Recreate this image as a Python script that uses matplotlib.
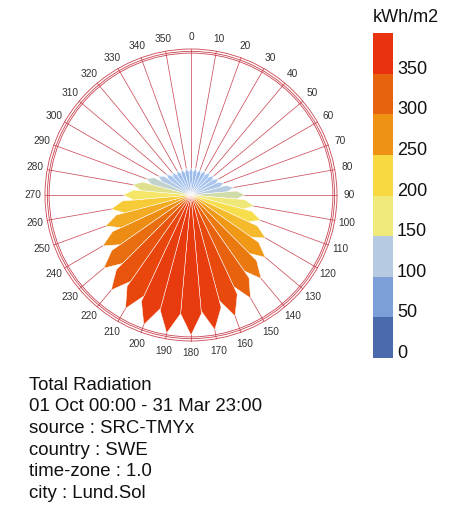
import numpy as np
import matplotlib
matplotlib.use('Agg')
import matplotlib.pyplot as plt
from matplotlib.patches import Polygon, Circle
from matplotlib.colors import LinearSegmentedColormap

plt.rcParams['font.family'] = ['Liberation Sans', 'DejaVu Sans']

# compass directions (deg, clockwise from north) and total radiation per direction
directions = list(range(0, 360, 10))
radiation = [74, 74, 74, 77, 80, 82, 88, 96, 118, 148, 175, 203, 236, 266, 299, 326, 353, 375,
             384, 384, 378, 359, 340, 312, 279, 249, 222, 186, 162, 131, 104, 88, 80, 77, 74, 74]

legend_bins = [0, 50, 100, 150, 200, 250, 300, 350, 400]
legend_colors = ['#4a6aab', '#7c9fd9', '#b6cbe2', '#f0ea7a', '#f8d942',
                 '#ef9112', '#e8630f', '#e83210']
legend_title = 'kWh/m2'

# smooth colour ramp used for the petals
ramp_values = [0, 50, 80, 120, 150, 180, 210, 240, 270, 310, 350, 400]
ramp_colors = ['#4a6aab', '#7c9fd9', '#a6c4f0', '#b8cce0', '#d2dca2', '#f4ea72',
               '#f8da40', '#f5b62a', '#ef9414', '#e8700f', '#e84a0c', '#e83210']

info_lines = ['Total Radiation', '01 Oct 00:00 - 31 Mar 23:00', 'source : SRC-TMYx',
              'country : SWE', 'time-zone : 1.0', 'city : Lund.Sol']

vmax = 400
cmap = LinearSegmentedColormap.from_list(
    'rad', [(v / vmax, c) for v, c in zip(ramp_values, ramp_colors)])


def pol(angle, r):
    a = np.radians(angle)
    return r * np.sin(a), r * np.cos(a)


fig = plt.figure(figsize=(4.76, 5.13), dpi=100)

# rose
ax = fig.add_axes([21 / 476, 148 / 513, 340 / 476, 340 / 513])
lim = 170 * vmax / 146
ax.set_xlim(-lim, lim)
ax.set_ylim(-lim, lim)
ax.set_aspect('equal')
ax.axis('off')

line_col = '#c4303f'
for r in [vmax, vmax * 0.984, vmax * 0.972]:
    ax.add_patch(Circle((0, 0), r, fill=False, ec=line_col, lw=0.6, alpha=0.9, zorder=1))
for d in directions:
    x, y = pol(d, vmax)
    ax.plot([0, x], [0, y], color=line_col, lw=0.55, alpha=0.85, zorder=1)
    tx, ty = pol(d, vmax * 1.085)
    ax.text(tx, ty, str(d), ha='center', va='center', fontsize=7.3, color='#333333')

half = 5.0
for d, v in zip(directions, radiation):
    pts = [(0, 0), pol(d - half, 0.85 * v), pol(d, v), pol(d + half, 0.85 * v)]
    ax.add_patch(Polygon(pts, closed=True, fc=cmap(v / vmax), ec='white', lw=0.35, zorder=2))

# legend
cax = fig.add_axes([373 / 476, 155 / 513, 20 / 476, 325 / 513])
cax.bar(0, np.diff(legend_bins), bottom=legend_bins[:-1], width=1, color=legend_colors,
        edgecolor='none')
cax.set_xlim(-0.5, 0.5)
cax.set_ylim(0, vmax)
cax.axis('off')
for b in legend_bins[:-1]:
    cax.text(1.2, b, str(b), ha='left', va='baseline', fontsize=13, color='#111111',
             transform=cax.get_yaxis_transform())
fig.text(373 / 476, 1 - 18 / 513, legend_title, ha='left', va='center', fontsize=13,
         color='#111111')

# info text
for i, line in enumerate(info_lines):
    fig.text(29 / 476, 1 - (385 + i * 21.7) / 513, line, ha='left', va='center',
             fontsize=13.4, color='#111111')

fig.savefig('out.png', dpi=100)
